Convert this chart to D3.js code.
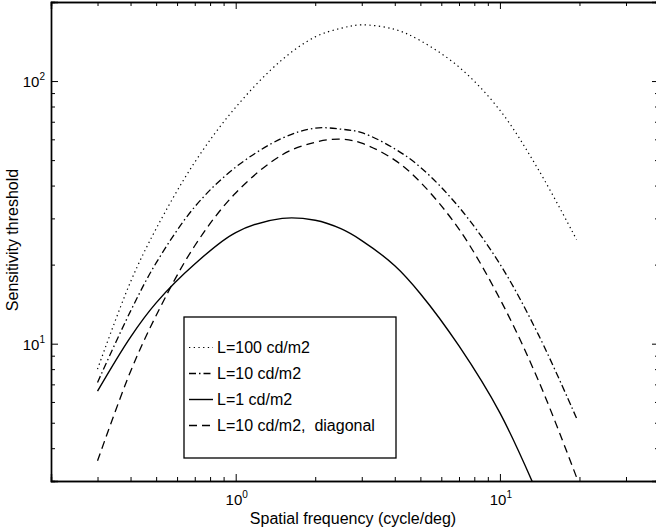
<!DOCTYPE html>
<html>
<head>
<meta charset="utf-8">
<script src="https://cdn.jsdelivr.net/npm/d3@7"></script>
<style>
  html, body { margin: 0; padding: 0; background: #fff; }
  svg { display: block; }
  text { font-family: "Liberation Sans", Arial, Helvetica, sans-serif; fill: #000; white-space: pre; }
</style>
</head>
<body>
<svg id="chart" width="656" height="531"></svg>
<script>
// Spatial frequencies (cycle/deg) at which the thresholds are listed
const freq = [0.3, 0.4, 0.5, 0.7, 1, 1.5, 2, 2.5, 3, 4, 5, 7, 10, 14, 19.5];

// Sensitivity thresholds per luminance condition
const lum100 = [8.0, 17.2, 27.4, 49.1, 79.5, 120.7, 147.3, 158.8, 163.6, 157.3, 142.5, 113.1, 77.4, 45.9, 24.9];
const lum10 = [7.12, 13.3, 20.3, 33.2, 47.0, 60.6, 66.2, 65.6, 63.6, 55.2, 47.0, 33.1, 20.1, 10.8, 5.2];
const lum1 = [6.6, 10.6, 14.3, 20.1, 26.5, 30.0, 29.5, 27.4, 24.7, 19.8, 15.5, 9.8, 5.45, 2.63];
const lum10diag = [3.58, 7.84, 12.8, 23.6, 37.5, 52.4, 58.5, 60.1, 58.0, 50.0, 41.2, 27.3, 14.8, 7.22, 3.1];

const seriesNames = ["L=100 cd/m2", "L=10 cd/m2", "L=1 cd/m2", "L=10 cd/m2,  diagonal"];

// Axis ranges and tick values
const xDomain = [0.2, 40];
const yDomain = [3, 200];
const xMajor = [1, 10];
const xMinor = [0.3, 0.4, 0.5, 0.6, 0.7, 0.8, 0.9, 2, 3, 4, 5, 6, 7, 8, 9, 20, 30];
const yMajor = [10, 100];
const yMinor = [4, 5, 6, 7, 8, 9, 20, 30, 40, 50, 60, 70, 80, 90];
const xTitle = "Spatial frequency (cycle/deg)";
const yTitle = "Sensitivity threshold";

const svg = d3.select("#chart");
const plot = { left: 51, right: 659, top: 2, bottom: 481 };

const x = d3.scaleLog().domain(xDomain).range([plot.left, plot.right]);
const y = d3.scaleLog().domain(yDomain).range([plot.bottom, plot.top]);

svg.append("defs").append("clipPath").attr("id", "plotClip")
  .append("rect")
  .attr("x", plot.left).attr("y", plot.top)
  .attr("width", plot.right - plot.left).attr("height", plot.bottom - plot.top);

// Line styles
const styles = [
  { dash: "1.3,3.4", width: 1.2 },
  { dash: "7,3,1.5,3", width: 1.3 },
  { dash: null, width: 1.4 },
  { dash: "8,5", width: 1.3 }
];
const seriesValues = [lum100, lum10, lum1, lum10diag];

const line = d3.line()
  .x(d => x(d[0]))
  .y(d => y(d[1]))
  .curve(d3.curveCatmullRom.alpha(0.5));

const curves = svg.append("g").attr("clip-path", "url(#plotClip)");
seriesValues.forEach((vals, i) => {
  const pts = vals.map((v, k) => [freq[k], v]);
  curves.append("path")
    .attr("d", line(pts))
    .attr("fill", "none")
    .attr("stroke", "#000")
    .attr("stroke-width", styles[i].width)
    .attr("stroke-dasharray", styles[i].dash);
});

// Axes with inward ticks
function styleAxis(g) {
  g.selectAll("path.domain").attr("stroke", "#000").attr("stroke-width", 1.4);
  g.selectAll(".tick line").attr("stroke", "#000").attr("stroke-width", 1);
  g.selectAll(".tick text").remove();
}
const majorLen = 7, minorLen = 4;

function addAxis(axisFn, scale, transform, values, len) {
  const g = svg.append("g").attr("transform", transform)
    .call(axisFn(scale).tickValues(values).tickSize(-len).tickFormat(""));
  styleAxis(g);
  return g;
}

addAxis(d3.axisBottom, x, `translate(0,${plot.bottom})`, xMinor, minorLen);
addAxis(d3.axisBottom, x, `translate(0,${plot.bottom})`, xMajor, majorLen);
addAxis(d3.axisTop, x, `translate(0,${plot.top})`, xMinor, minorLen);
addAxis(d3.axisTop, x, `translate(0,${plot.top})`, xMajor, majorLen);
addAxis(d3.axisLeft, y, `translate(${plot.left},0)`, yMinor, minorLen);
addAxis(d3.axisLeft, y, `translate(${plot.left},0)`, yMajor, majorLen);
addAxis(d3.axisRight, y, `translate(${plot.right},0)`, yMinor, minorLen);
addAxis(d3.axisRight, y, `translate(${plot.right},0)`, yMajor, majorLen);

// Power-of-ten tick labels
function powerLabel(sel, v) {
  const exp = Math.round(Math.log10(v));
  sel.append("tspan").text("10").attr("font-size", 15);
  sel.append("tspan").text(exp).attr("font-size", 10).attr("dy", -7);
}
xMajor.forEach(v => {
  const t = svg.append("text")
    .attr("x", x(v) + 1).attr("y", 505)
    .attr("text-anchor", "middle");
  powerLabel(t, v);
});
yMajor.forEach(v => {
  const t = svg.append("text")
    .attr("x", 45).attr("y", y(v) + 6)
    .attr("text-anchor", "end");
  powerLabel(t, v);
});

// Axis titles
svg.append("text")
  .attr("x", 353).attr("y", 524)
  .attr("text-anchor", "middle")
  .attr("font-size", 16)
  .text(xTitle);
svg.append("text")
  .attr("transform", `translate(18,${240}) rotate(-90)`)
  .attr("text-anchor", "middle")
  .attr("font-size", 16)
  .text(yTitle);

// Legend
const legend = { x: 184, y: 317, w: 212, h: 141, rowY: 347.5, rowStep: 26 };
svg.append("rect")
  .attr("x", legend.x).attr("y", legend.y)
  .attr("width", legend.w).attr("height", legend.h)
  .attr("fill", "#fff").attr("stroke", "#000").attr("stroke-width", 1.3);

seriesNames.forEach((name, i) => {
  const cy = legend.rowY + i * legend.rowStep;
  svg.append("line")
    .attr("x1", 189).attr("x2", 213)
    .attr("y1", cy).attr("y2", cy)
    .attr("stroke", "#000")
    .attr("stroke-width", styles[i].width)
    .attr("stroke-dasharray", styles[i].dash);
  svg.append("text")
    .attr("x", 217).attr("y", cy + 5.5)
    .attr("font-size", 16)
    .attr("xml:space", "preserve")
    .text(name);
});
</script>
</body>
</html>
